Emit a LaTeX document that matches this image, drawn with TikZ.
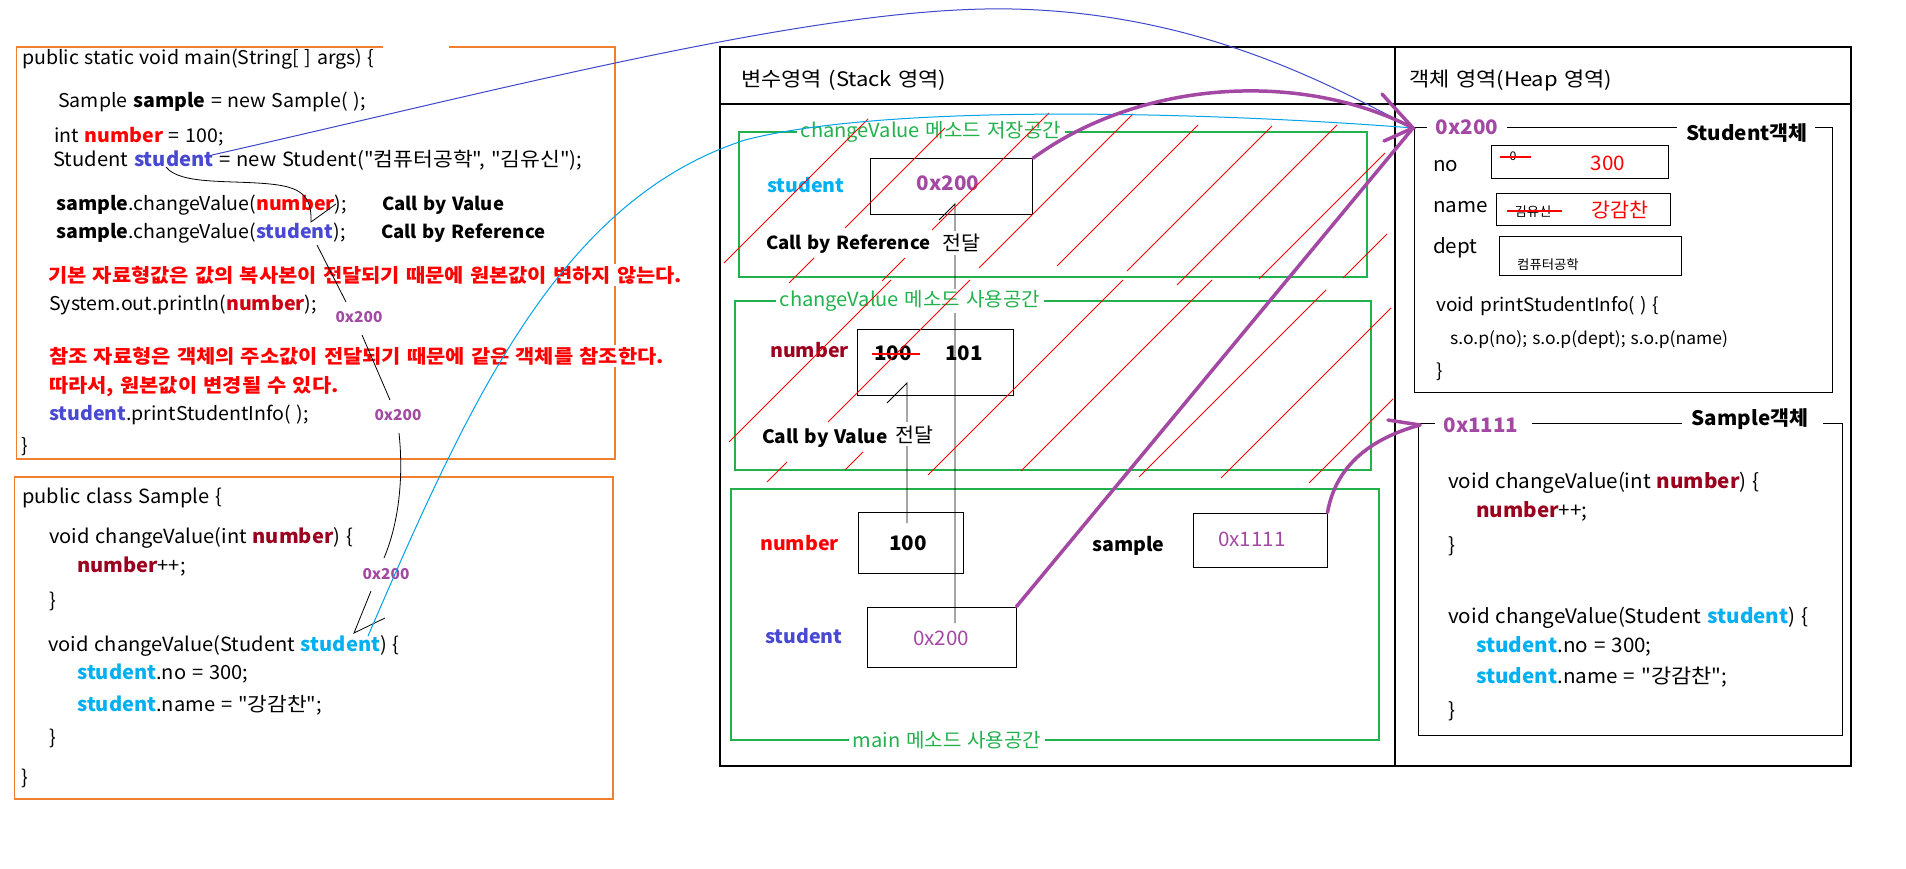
\documentclass[tikz,border=0pt]{standalone}
\usepackage{fontspec}
\setmainfont{Noto Sans CJK KR}[Ligatures=TeXOff, FakeStretch=1.03, WordSpace=1.3]
\newfontfamily\krf{Noto Sans CJK KR}[Ligatures=TeXOff, FakeStretch=1.1, WordSpace=1.3]
\definecolor{orng}{RGB}{240,128,48}
\definecolor{grn}{RGB}{34,177,76}
\definecolor{purp}{RGB}{163,73,164}
\definecolor{cyn}{RGB}{0,162,232}
\definecolor{cyntext}{RGB}{0,176,240}
\definecolor{indg}{RGB}{63,72,204}
\definecolor{stblue}{RGB}{72,72,210}
\definecolor{dkred}{RGB}{155,0,30}
\definecolor{mdred}{RGB}{205,0,20}
\definecolor{brred}{RGB}{255,0,0}
\newcommand{\kwc}[2]{{\bfseries\color{#1}#2}}
\newcommand{\kr}[1]{{\krf #1}}
\tikzset{
  code/.style={anchor=base west, inner sep=0pt, font=\fontsize{19}{22}\selectfont},
  scode/.style={anchor=base west, inner sep=0pt, font=\fontsize{19.5}{22}\selectfont},
  ocode/.style={anchor=base west, inner sep=0pt, font=\fontsize{20}{22}\selectfont},
  redline/.style={anchor=base west, fill=white, inner xsep=0pt, inner ysep=2pt, text=brred, font=\fontsize{19}{22}\selectfont\krf\bfseries},
  addr/.style={inner sep=0pt, text=purp, font=\fontsize{15}{18}\selectfont\bfseries},
  glabel/.style={fill=white, text=grn, inner xsep=4pt, inner ysep=1pt, font=\fontsize{19.5}{22}\selectfont},
  valbox/.style={draw=black, line width=1pt, inner sep=0pt},
  hatch/.style={brred, line width=0.8pt},
  pl/.style={purp, line width=3.5pt, line cap=round},
  thin/.style={black, line width=0.8pt},
  boldlbl/.style={anchor=base west, inner sep=0pt, font=\fontsize{19}{22}\selectfont\bfseries},
  calllbl/.style={anchor=base west, inner sep=0pt, font=\fontsize{18}{22}\selectfont\bfseries},
}
\begin{document}
\begin{tikzpicture}[x=1pt,y=-1pt]
\useasboundingbox (0,0) rectangle (1906,869);
\fill[white] (0,0) rectangle (1906,869);

% ---------- code boxes ----------
\draw[orng, line width=1.2pt] (383,47) -- (16.6,47) -- (16.6,459) -- (615,459) -- (615,47) -- (449,47);
\draw[orng, line width=1.2pt] (14.5,477) rectangle (613,799);

% ---------- memory frame ----------
\draw[line width=1.3pt] (720,47) rectangle (1851,766);
\draw[line width=1.3pt] (720,104) -- (1851,104);
\draw[line width=1.3pt] (1395,47) -- (1395,766);

% green frames
\draw[grn, line width=1.2pt] (739,132) rectangle (1367,277);
\draw[grn, line width=1.2pt] (735,301) rectangle (1371,470);
\draw[grn, line width=1.2pt] (731,489) rectangle (1379,740);

% value boxes
\node[valbox, minimum width=162pt, minimum height=55.6pt] (cvstu) at (951.5,186.5) {};
\node[valbox, minimum width=156pt, minimum height=66pt] (cvnum) at (935,362) {};
\node[valbox, minimum width=104.5pt, minimum height=61pt] (mnum) at (910.75,542.5) {};
\node[valbox, minimum width=134pt, minimum height=54pt] (msam) at (1260,540) {};
\node[valbox, minimum width=149pt, minimum height=60pt] (mstu) at (941.5,637) {};

% heap object frames
\draw[line width=1pt] (1427,128) -- (1414,128) -- (1414,392) -- (1832,392) -- (1832,128) -- (1815,128);
\draw[line width=1pt] (1507,128) -- (1677,128);
\draw[line width=1pt] (1435,423) -- (1418,423) -- (1418,735) -- (1842,735) -- (1842,423) -- (1823,423);
\draw[line width=1pt] (1532,423) -- (1682,423);
\node[valbox, minimum width=177pt, minimum height=33pt] (hno) at (1579.5,162.5) {};
\node[valbox, minimum width=174pt, minimum height=32pt] (hname) at (1583,210) {};
\node[valbox, minimum width=182pt, minimum height=38pt] (hdept) at (1590,256) {};

% black pass arrows in stack
\draw[thin] (955,623) -- (955,204) -- (939,220);
\draw[thin] (907,523) -- (907,383) -- (887,403);

% ---------- main() code ----------
\node[code] (m1) at (22,65) {public static void main(String[ ] args) \{};
\node[code] (m2) at (58,108) {Sample \textbf{sample} = new Sample( );};
\node[code] (m3) at (54,143) {int \kwc{brred}{number} = 100;};
\node[code, font=\fontsize{19.6}{22}\selectfont] (m4) at (53,167) {Student \kwc{stblue}{student} = new Student("\kr{컴퓨터공학}", "\kr{김유신}");};
\node[code] (m5) at (56,211) {\textbf{sample}.changeValue(\kwc{brred}{number});};
\node[calllbl] (m5b) at (382,211) {Call by Value};
\node[code] (m6) at (56,239) {\textbf{sample}.changeValue(\kwc{stblue}{student});};
\node[calllbl] (m6b) at (381,239) {Call by Reference};
\node[redline] (m7) at (48,282) {기본 자료형값은 값의 복사본이 전달되기 때문에 원본값이 변하지 않는다.};
\node[code] (m8) at (49,310) {System.out.println(\kwc{mdred}{number});};
\node[redline] (m9) at (49,363) {참조 자료형은 객체의 주소값이 전달되기 때문에 같은 객체를 참조한다.};
\node[redline] (m10) at (49,392) {따라서, 원본값이 변경될 수 있다.};
\node[code] (m11) at (49,420) {\kwc{stblue}{student}.printStudentInfo( );};
\node[code] (m12) at (21,452) {\}};

\node[addr] (a1) at (359,317) {0x200};
\node[addr] (a2) at (398,415) {0x200};
\node[addr] (a3) at (386,574) {0x200};

% ---------- class Sample code ----------
\node[scode] (s1) at (22,503) {public class Sample \{};
\node[scode] (s2) at (49,543) {void changeValue(int \kwc{dkred}{number}) \{};
\node[scode] (s3) at (77,572) {\kwc{dkred}{number}++;};
\node[scode] (s4) at (49,607) {\}};
\node[scode] (s5) at (48,651) {void changeValue(Student \kwc{cyntext}{student}) \{};
\node[scode] (s6) at (77,679) {\kwc{cyntext}{student}.no = 300;};
\node[scode] (s7) at (77,711) {\kwc{cyntext}{student}.name = "\kr{강감찬}";};
\node[scode] (s8) at (49,744) {\}};
\node[scode] (s9) at (21,784) {\}};

% ---------- stack area ----------
\node[anchor=base west, inner sep=0pt, font=\fontsize{20}{22}\selectfont\krf] (sth) at (741,87) {변수영역 (Stack 영역)};
\node[anchor=base west, inner sep=0pt, font=\fontsize{20}{22}\selectfont\krf] (hph) at (1409,87) {객체 영역(Heap 영역)};

\node[glabel] (g1) at (931,132) {changeValue 메소드 저장공간};
\node[glabel] (g2) at (910,301) {changeValue 메소드 사용공간};
\node[glabel] (g3) at (947,740) {main 메소드 사용공간};

\node[boldlbl, text=cyntext] (cvstul) at (767,193) {student};
\node[inner sep=0pt, text=purp, font=\fontsize{20}{22}\selectfont\bfseries] (cvstuv) at (948,183) {0x200};
\node[calllbl] (cbr) at (766,250) {Call by Reference};
\node[anchor=base west, fill=white, inner xsep=1pt, inner ysep=3pt, font=\fontsize{20}{22}\selectfont] (pass1) at (941,251) {전달};

\node[boldlbl, text=dkred] (cvnuml) at (770,357) {number};
\node[inner sep=0pt, font=\fontsize{20}{22}\selectfont\bfseries] (old100) at (893,353) {100};
\draw[brred, line width=1.3pt] (872,354) -- (920,354);
\node[inner sep=0pt, font=\fontsize{20}{22}\selectfont\bfseries] (new101) at (964,353) {101};
\node[calllbl, font=\fontsize{18.5}{22}\selectfont\bfseries] (cbv) at (762,443) {Call by Value};
\node[anchor=base west, fill=white, inner xsep=1pt, inner ysep=3pt, font=\fontsize{20}{22}\selectfont] (pass2) at (894,442) {전달};

\node[boldlbl, text=brred] (mnuml) at (760,550) {number};
\node[inner sep=0pt, font=\fontsize{20}{22}\selectfont\bfseries] (mnumv) at (908,543) {100};
\node[boldlbl] (msaml) at (1092,551) {sample};
\node[inner sep=0pt, text=purp, font=\fontsize{20}{22}\selectfont] (msamv) at (1252,539) {0x1111};
\node[boldlbl, text=stblue] (mstul) at (765,643) {student};
\node[inner sep=0pt, text=purp, font=\fontsize{20}{22}\selectfont] (mstuv) at (941,638) {0x200};

% ---------- heap area ----------
\node[inner sep=0pt, text=purp, font=\fontsize{20}{22}\selectfont\bfseries] (h200) at (1467,127) {0x200};
\node[inner sep=0pt, font=\fontsize{20}{22}\selectfont\bfseries] (hstuobj) at (1747,133) {Student객체};
\node[anchor=base west, inner sep=0pt, font=\fontsize{20}{22}\selectfont] (hnol) at (1433,172) {no};
\node[anchor=base west, inner sep=0pt, font=\fontsize{20}{22}\selectfont] (hnamel) at (1433,213) {name};
\node[anchor=base west, inner sep=0pt, font=\fontsize{20}{22}\selectfont] (hdeptl) at (1433,254) {dept};
\node[inner sep=0pt, font=\fontsize{12}{14}\selectfont] (hno0) at (1513,156) {0};
\draw[brred, line width=2pt] (1500,157) -- (1531,157);
\node[inner sep=0pt, text=brred, font=\fontsize{20}{22}\selectfont] (hno300) at (1608,163) {300};
\node[inner sep=0pt, font=\fontsize{13}{14}\selectfont] (hnameold) at (1533,212) {김유신};
\draw[brred, line width=2pt] (1507,211) -- (1562,211);
\node[inner sep=0pt, text=brred, font=\fontsize{20}{22}\selectfont] (hnamenew) at (1620,210) {강감찬};
\node[inner sep=0pt, font=\fontsize{13}{14}\selectfont] (hdeptv) at (1548,265) {컴퓨터공학};
\node[anchor=base west, inner sep=0pt, font=\fontsize{18.5}{20}\selectfont] (hp1) at (1436,311) {void printStudentInfo( ) \{};
\node[anchor=base west, inner sep=0pt, font=\fontsize{17}{20}\selectfont] (hp2) at (1450,344) {s.o.p(no); s.o.p(dept); s.o.p(name)};
\node[anchor=base west, inner sep=0pt, font=\fontsize{18.5}{20}\selectfont] (hp3) at (1436,377) {\}};

\node[inner sep=0pt, text=purp, font=\fontsize{20}{22}\selectfont\bfseries] (h1111) at (1481,425) {0x1111};
\node[inner sep=0pt, font=\fontsize{20}{22}\selectfont\bfseries] (hsamobj) at (1750,419) {Sample객체};
\node[ocode] (h1) at (1448,488) {void changeValue(int \kwc{dkred}{number}) \{};
\node[ocode] (h2) at (1476,517) {\kwc{dkred}{number}++;};
\node[ocode] (h3) at (1448,552) {\}};
\node[ocode] (h4) at (1448,623) {void changeValue(Student \kwc{cyntext}{student}) \{};
\node[ocode] (h5) at (1476,652) {\kwc{cyntext}{student}.no = 300;};
\node[ocode] (h6) at (1476,683) {\kwc{cyntext}{student}.name = "\kr{강감찬}";};
\node[ocode] (h7) at (1448,717) {\}};

% ---------- hatching ----------
\foreach \hx/\hy/\hl in {724/263/144, 845/228/100, 932/230/117, 979/268/154, 1057/266/141,
  1127/271/145, 1177/285/160, 789/283/25, 882/281/23, 1259/279/126, 1343/278/44,
  729/442/162, 828/422/142, 767/482/20, 845/470/18, 928/475/195, 1021/471/191,
  1139/477/187, 1221/478/170, 1309/483/84}
  \draw[hatch] (\hx,\hy) -- ++(\hl,-\hl);

% ---------- connectors ----------
\coordinate (t200) at (1413,128);
\coordinate (t1111) at (1420,425);
\coordinate (mstuA) at (212,155);
\coordinate (sstuA) at (368,636);

% black call curve in main
\draw[thin] (166,167) .. controls (180,185) and (230,180) .. (270,184)
  .. controls (300,187) and (312,195) .. (311,222) -- (336,204);
\draw[thin] (317,245) -- (346,302);
\draw[thin] (362,335) -- (390,400);
\draw[thin] (399,433) .. controls (404,480) and (398,525) .. (384,558);
\draw[thin] (371,591) -- (354,633) -- (385,618);

% blue and cyan reference lines
\draw[indg, line width=1pt] (mstuA) .. controls (500,90) and (820,5) .. (1012,9)
  .. controls (1200,13) and (1330,85) .. (t200);
\draw[cyn, line width=1pt] (sstuA) .. controls (470,400) and (560,200) .. (745,140)
  .. controls (900,100) and (1250,115) .. (t200);

% purple references
\draw[pl] (cvstu.north east) .. controls (1140,80) and (1300,70) .. (t200);
\draw[pl] (mstu.north east) -- (t200);
\draw[pl] (1382,94) -- (t200) -- (1384,141);
\draw[pl] (msam.north east) .. controls (1335,470) and (1365,440) .. (t1111);
\draw[pl] (1388,420) -- (t1111);
\end{tikzpicture}
\end{document}
